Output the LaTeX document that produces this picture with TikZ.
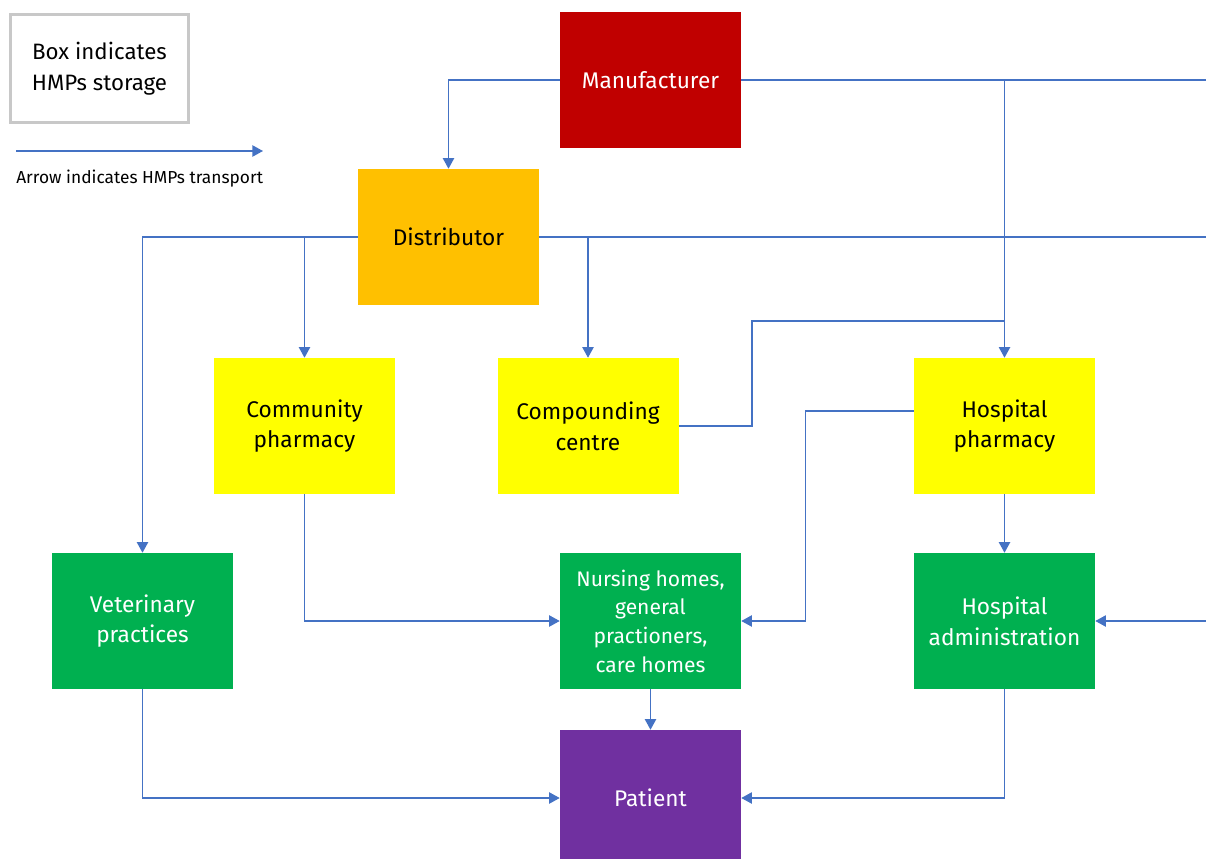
\documentclass[tikz,border=0pt]{standalone}
\usepackage{fontspec}
\setmainfont{Fira Sans}
\usetikzlibrary{arrows.meta}
\definecolor{cred}{HTML}{C00000}
\definecolor{corange}{HTML}{FFC000}
\definecolor{cyellow}{HTML}{FFFF00}
\definecolor{cgreen}{HTML}{00B050}
\definecolor{cpurple}{HTML}{7030A0}
\definecolor{cline}{HTML}{4472C4}
\definecolor{cgray}{HTML}{C8C8C8}
\tikzset{
  stbox/.style={minimum width=135.75pt, minimum height=102pt, inner sep=0pt, align=center,
    font=\fontsize{17}{23}\selectfont},
  wtxt/.style={text=white},
  conn/.style={draw=cline, line width=1.1pt},
  arr/.style={conn, -{Triangle[length=8pt,width=8.5pt]}},
}
\begin{document}
\begin{tikzpicture}[x=0.75pt,y=-0.75pt]
\useasboundingbox (0,0) rectangle (1206,859);
% legend
\node[draw=cgray, line width=2.2pt, minimum width=133pt, minimum height=81pt, inner sep=0pt, align=center,
  font=\fontsize{16.7}{23}\selectfont] (leg) at (99.5,68.5) {Box indicates\\HMPs storage};
\coordinate (la) at (16,151);
\coordinate (lb) at (263,151);
\draw[arr] (la) -- (lb);
\node[anchor=west, inner sep=0pt, font=\fontsize{13}{14}\selectfont] (lt) at (16,179) {Arrow indicates HMPs transport};
% boxes
\node[stbox, fill=cred, wtxt] (man) at (650.5,80) {Manufacturer};
\node[stbox, fill=corange] (dist) at (448.5,237) {Distributor};
\node[stbox, fill=cyellow] (cp) at (304.5,426) {Community\\pharmacy};
\node[stbox, fill=cyellow] (cc) at (588,426) {Compounding\\centre};
\node[stbox, fill=cyellow] (hp) at (1004.5,426) {Hospital\\pharmacy};
\node[stbox, fill=cgreen, wtxt] (vet) at (142.5,621) {Veterinary\\practices};
\node[stbox, fill=cgreen, wtxt, font=\fontsize{15.8}{21.5}\selectfont] (nh) at (650.5,621) {Nursing homes,\\general\\practioners,\\care homes};
\node[stbox, fill=cgreen, wtxt] (ha) at (1004.5,621) {Hospital\\administration};
\node[stbox, fill=cpurple, wtxt] (pat) at (650.5,798) {Patient};
% edge coordinates
\coordinate (e1) at (1206,80);
\coordinate (e2) at (1206,237);
\coordinate (e3) at (1206,621);
\coordinate (j1) at (1004.5,321);
% connectors
\draw[arr] (man.west) -| (dist.north);
\draw[conn] (man.east) -- (e1);
\draw[arr] (man.east -| hp.north) -- (hp.north);
\draw[arr] (dist.west) -| (vet.north);
\draw[arr] (dist.west -| cp.north) -- (cp.north);
\draw[conn] (dist.east) -- (e2);
\draw[arr] (dist.east -| cc.north) -- (cc.north);
\draw[conn] (cc.east) -- ++(73,0) |- (j1);
\draw[arr] ([yshift=11.25pt]hp.west) -- ++(-108,0) |- (nh.east);
\draw[arr] (cp.south) |- (nh.west);
\draw[arr] (hp.south) -- (ha.north);
\draw[arr] (e3) -- (ha.east);
\draw[arr] (nh.south) -- (pat.north);
\draw[arr] (vet.south) |- (pat.west);
\draw[arr] (ha.south) |- (pat.east);
\end{tikzpicture}
\end{document}
